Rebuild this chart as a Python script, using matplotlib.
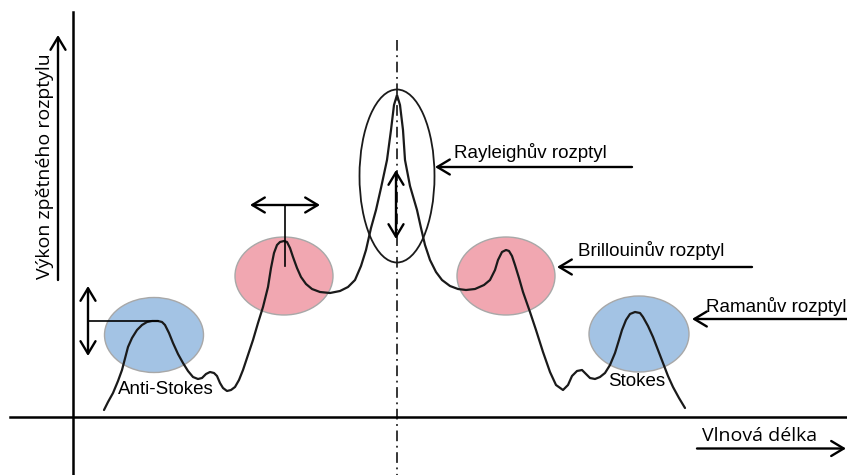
import matplotlib
matplotlib.use("Agg")
import matplotlib.pyplot as plt
from matplotlib.patches import Ellipse

# ---- data (schematic spectrum, pixel-like units) ----
curve_x = [104, 108, 113, 118, 122, 128, 132, 137, 142, 147, 152, 158, 162, 165, 169, 173, 178, 183,
           188, 193, 198, 202, 206, 210, 214, 217, 220, 223, 227, 231, 235, 239, 243, 248, 253, 258,
           263, 268, 271, 274, 277, 280, 284, 287, 290, 293, 297, 301, 306, 312, 320, 330, 340, 348,
           355, 361, 366, 371, 376, 381, 387, 391, 394, 397, 400, 403, 405, 410, 417, 421, 425, 430,
           436, 442, 450, 458, 466, 475, 484, 490, 495, 498, 502, 506, 509, 512, 515, 519, 523, 530,
           536, 543, 550, 556, 563, 568, 572, 577, 582, 586, 590, 595, 600, 605, 610, 615, 619, 622,
           626, 630, 635, 640, 643, 648, 653, 658, 663, 668, 673, 679, 685]
curve_y = [410, 402, 393, 381, 370, 347, 338, 330, 325, 322, 321, 321, 322, 325, 333, 343, 354, 363,
           371, 377, 379, 378, 374, 372, 373, 376, 383, 388, 391, 390, 387, 380, 370, 355, 340, 323,
           307, 287, 268, 253, 245, 242, 241, 242, 248, 257, 268, 277, 284, 289, 292, 293, 291, 287,
           280, 266, 250, 228, 210, 188, 160, 130, 105, 95, 105, 130, 160, 186, 210, 228, 245, 260,
           272, 280, 286, 289, 290, 289, 285, 280, 270, 260, 252, 250, 251, 256, 265, 278, 292, 312,
           330, 352, 372, 385, 390, 385, 376, 371, 370, 374, 378, 379, 377, 373, 365, 353, 340, 330,
           320, 314, 312, 313, 317, 326, 337, 350, 363, 376, 387, 398, 408]

# regions (center x, center y, width, height, kind)
regions = [
    (154, 335, 99, 75, "raman"),
    (284, 276, 98, 78, "brillouin"),
    (506, 276, 98, 78, "brillouin"),
    (639, 334, 100, 76, "raman"),
]
rayleigh_region = (397, 176, 75, 173)

label_texts = ["Rayleighův rozptyl", "Brillouinův rozptyl", "Ramanův rozptyl"]
side_labels = ["Anti-Stokes", "Stokes"]
y_label = "Výkon zpětného rozptylu"
x_label = "Vlnová délka"

colors = {"raman": "#a3c3e4", "brillouin": "#f1a7b1"}

fig = plt.figure(figsize=(8.47, 4.75), dpi=100)
ax = fig.add_axes([0, 0, 1, 1])
ax.set_xlim(0, 847)
ax.set_ylim(475, 0)
ax.axis("off")

# coloured regions
for cx, cy, w, h, kind in regions:
    ax.add_patch(Ellipse((cx, cy), w, h, facecolor=colors[kind], edgecolor="#a8a8a8", lw=1.0, zorder=1))

# axes lines
ax.plot([73, 73], [12, 475], color="black", lw=1.8, zorder=2)
ax.plot([10, 847], [416.5, 416.5], color="black", lw=1.8, zorder=2)

# centre dash-dot line
ax.plot([397, 397], [40, 475], color="black", lw=1.1, dashes=(7, 3, 1.2, 3), zorder=2)

# spectrum curve
ax.plot(curve_x, curve_y, color="#1a1a1a", lw=1.6, zorder=3, solid_capstyle="round")

# Rayleigh ellipse
rx, ry, rw, rh = rayleigh_region
ax.add_patch(Ellipse((rx, ry), rw, rh, facecolor="none", edgecolor="#1a1a1a", lw=1.3, zorder=3))

arrow_kw = dict(arrowstyle="->,head_length=0.5,head_width=0.3", lw=1.7, color="black",
                mutation_scale=18, shrinkA=0, shrinkB=0)
darrow_kw = dict(arrowstyle="<->,head_length=0.5,head_width=0.3", lw=1.7, color="black",
                 mutation_scale=18, shrinkA=0, shrinkB=0)

# y-axis label arrow
ax.annotate("", xy=(58, 35), xytext=(58, 280), arrowprops=arrow_kw)
ax.text(45, 166, y_label, rotation=90, ha="center", va="center", fontsize=14,
        family=["Open Sans", "DejaVu Sans"], color="black")

# x-axis label arrow
ax.annotate("", xy=(846, 448.5), xytext=(697, 448.5), arrowprops=arrow_kw)
ax.text(760, 436, x_label, ha="center", va="center", fontsize=14,
        family=["Open Sans", "DejaVu Sans"], color="black")

# Anti-Stokes marker
ax.annotate("", xy=(88, 286), xytext=(88, 356), arrowprops=darrow_kw)
ax.plot([89, 158], [321, 321], color="black", lw=1.2, zorder=3)

# Brillouin shift marker
ax.annotate("", xy=(250, 205), xytext=(320, 205), arrowprops=darrow_kw)
ax.plot([285, 285], [205, 266], color="black", lw=1.2, zorder=3)

# Rayleigh width marker
ax.annotate("", xy=(396, 170), xytext=(396, 239), arrowprops=darrow_kw)

tfam = ["Liberation Sans", "DejaVu Sans"]
# labels with pointer arrows
ax.annotate("", xy=(435, 167), xytext=(632, 167), arrowprops=arrow_kw)
ax.text(454, 153, label_texts[0], ha="left", va="center", fontsize=13.5, family=tfam)
ax.annotate("", xy=(557, 267), xytext=(752, 267), arrowprops=arrow_kw)
ax.text(578, 251, label_texts[1], ha="left", va="center", fontsize=13.5, family=tfam)
ax.annotate("", xy=(692, 319), xytext=(847, 319), arrowprops=arrow_kw)
ax.text(706, 307, label_texts[2], ha="left", va="center", fontsize=13.5, family=tfam)

ax.text(166, 389, side_labels[0], ha="center", va="center", fontsize=13.5, family=tfam, zorder=4)
ax.text(637, 382, side_labels[1], ha="center", va="center", fontsize=13.5, family=tfam, zorder=4)

fig.savefig("out.png", dpi=100)
